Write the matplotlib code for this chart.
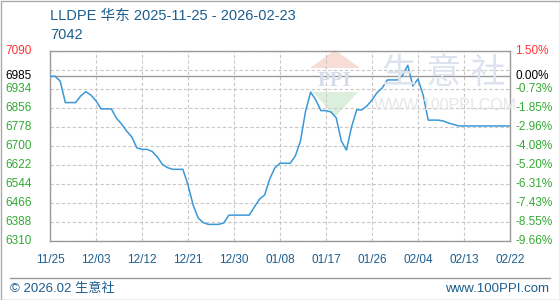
import numpy as np
import matplotlib
matplotlib.use("Agg")
import matplotlib.pyplot as plt
from matplotlib.patches import Rectangle, Polygon

plt.rcParams['font.family'] = ['Liberation Sans', 'Noto Sans CJK SC']

# daily price, 2025-11-25 .. 2026-02-23 (day 0 .. 90)
prices = [6985, 6985, 6965, 6877, 6877, 6877, 6904, 6922, 6908, 6884,
          6851, 6851, 6851, 6813, 6789, 6760, 6736, 6691, 6685, 6685,
          6676, 6654, 6623, 6610, 6603, 6603, 6603, 6539, 6456, 6403,
          6384, 6377, 6377, 6377, 6383, 6415, 6415, 6415, 6415, 6415,
          6449, 6481, 6498, 6564, 6609, 6628, 6628, 6628, 6658, 6719,
          6842, 6920, 6888, 6844, 6844, 6838, 6814, 6719, 6682, 6777,
          6847, 6847, 6863, 6888, 6918, 6937, 6970, 6970, 6970, 6990,
          7030, 6945, 6974, 6908, 6805, 6805, 6805, 6801, 6793, 6787,
          6781, 6781, 6781, 6781, 6781, 6781, 6781, 6781, 6781, 6781,
          6781]
x_labels = ['11/25', '12/03', '12/12', '12/21', '12/30', '01/08',
            '01/17', '01/26', '02/04', '02/13', '02/22']
base_price = 6985
y_ticks = [7090, 7012, 6934, 6856, 6778, 6700, 6622, 6544, 6466, 6388, 6310]
title = 'LLDPE 华东 2025-11-25 - 2026-02-23'
headline = '7042'

RED, GREEN, BLUE = '#ff3333', '#33aa33', '#1b5e8e'

W, H = 560, 300
fig = plt.figure(figsize=(W / 100, H / 100), dpi=100)


def fx(px):
    return px / W


def fy(py):
    return 1 - py / H


# watermark logo + text (behind the axes)
fig.add_artist(Polygon([(fx(310), fy(68)), (fx(335), fy(50)), (fx(360), fy(68))],
                       closed=True, transform=fig.transFigure,
                       facecolor='#f8dcd6', edgecolor='none', zorder=0))
fig.add_artist(Polygon([(fx(313), fy(92)), (fx(358), fy(92)), (fx(335), fy(117))],
                       closed=True, transform=fig.transFigure,
                       facecolor='#dcefdc', edgecolor='none', zorder=0))
fig.text(fx(335), fy(81), 'PPI', color='#d6dde9', fontsize=15, fontweight='bold',
         family='Liberation Serif', ha='center', va='center', zorder=0)
fig.text(fx(444), fy(73), '生 意 社', color='#dde3ee', fontsize=25,
         ha='center', va='center', zorder=0)
fig.text(fx(445), fy(105), 'WWW.100PPI.COM', color='#e6e6e6', fontsize=11.5,
         ha='center', va='center', zorder=0)

ax = fig.add_axes([fx(50), fy(240.7), 460 / W, 190 / H])
ax.patch.set_alpha(0)

days = np.arange(len(prices))
ax.plot(days, prices, color='#3a98d8', lw=1.1, zorder=3)
ax.axhline(base_price, color='#999999', lw=1, zorder=2)

ax.set_xlim(0, 90)
ax.set_ylim(y_ticks[-1], y_ticks[0])
ax.set_xticks(np.arange(0, 91, 9))
ax.set_yticks(y_ticks)
ax.grid(True, color='#c8c8c8', ls=(0, (3, 2)), lw=0.8)
ax.tick_params(length=0, labelleft=False, labelbottom=False)
for s in ax.spines.values():
    s.set_color('#999999')
    s.set_linewidth(1)

lab_fs = 8.5
ytr = ax.get_yaxis_transform()
# left price labels and right percent labels
for v in y_ticks:
    if v == 7012:
        continue
    pct = (v - base_price) / base_price * 100
    c = RED if v > base_price else GREEN
    ax.text(-45 / 460, v, str(v), color=c, fontsize=lab_fs, ha='left', va='center',
            transform=ytr, clip_on=False)
    ax.text(1 + 5 / 460, v, f'{pct:.2f}%', color=c, fontsize=lab_fs,
            ha='left', va='center', transform=ytr, clip_on=False)
ax.text(-45 / 460, base_price, str(base_price), color='black', fontsize=lab_fs,
        ha='left', va='center', transform=ytr, clip_on=False)
ax.text(1 + 5 / 460, base_price, '0.00%', color='black', fontsize=lab_fs,
        ha='left', va='center', transform=ytr, clip_on=False)

# x labels
for i, lab in enumerate(x_labels):
    ax.text(i * 9, -19 / 190, lab, color=BLUE, fontsize=lab_fs,
            ha='center', va='center', transform=ax.get_xaxis_transform(), clip_on=False)

# title
fig.text(fx(50), fy(16), title, color=BLUE, fontsize=10.5, ha='left', va='center')
fig.text(fx(50), fy(35), headline, color=BLUE, fontsize=10.5, ha='left', va='center')

# footer
fig.add_artist(plt.Line2D([fx(10), fx(550)], [fy(278), fy(278)],
                          color='#999999', lw=1))
fig.text(fx(10), fy(289), '© 2026.02 生意社', color=BLUE, fontsize=9.5,
         ha='left', va='center')
fig.text(fx(549), fy(289), 'www.100PPI.com', color=BLUE, fontsize=9.5,
         ha='right', va='center')
fig.add_artist(Rectangle((0.5 / W, 0.5 / H), 1 - 1 / W, 1 - 1 / H,
                         transform=fig.transFigure, fill=False,
                         edgecolor='#aaaaaa', lw=1))

fig.savefig('out.png', dpi=100)
